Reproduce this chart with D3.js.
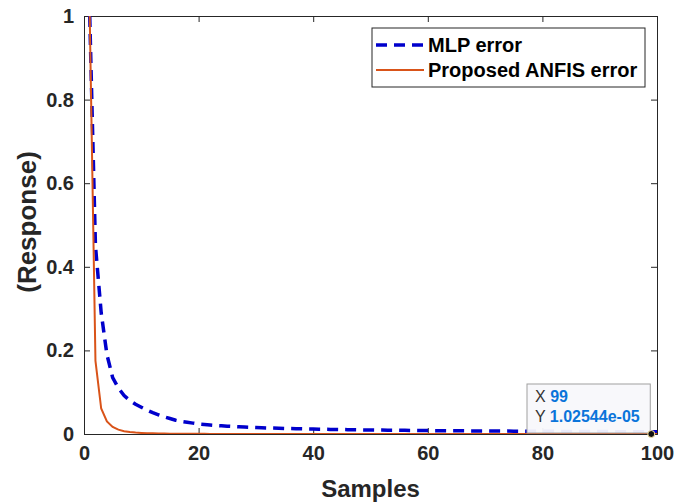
<!DOCTYPE html>
<html>
<head>
    <meta charset="utf-8">
    <style>
        body { margin: 0; background: white; }
        svg { display: block; background: white; }
        text { font-family: "Liberation Sans", Arial, Helvetica, sans-serif; }
        .tick text { font-size: 20px; font-weight: bold; fill: #262626; }
        .axis-label { font-size: 24px; font-weight: bold; fill: #262626; }
        .legend text { font-size: 20px; font-weight: bold; fill: #000; }
    </style>
    <script src="https://d3js.org/d3.v7.min.js"></script>
</head>
<body>
<script>
const mlpError = [
    1.0, 0.45, 0.29, 0.19, 0.135, 0.11, 0.092, 0.08, 0.071, 0.064,
    0.057, 0.051, 0.046, 0.041, 0.037, 0.033, 0.030, 0.028, 0.026, 0.024,
    0.0228, 0.0216, 0.0205, 0.0196, 0.0188, 0.018, 0.0173, 0.0166, 0.016, 0.0155,
    0.015, 0.0145, 0.0141, 0.0137, 0.0133, 0.013, 0.0127, 0.0124, 0.0121, 0.0118,
    0.0115, 0.0113, 0.011, 0.0108, 0.0106, 0.0104, 0.0102, 0.01, 0.0098, 0.0096,
    0.0094, 0.0093, 0.0091, 0.009, 0.0088, 0.0087, 0.0086, 0.0084, 0.0083, 0.0082,
    0.0081, 0.008, 0.0079, 0.0078, 0.0077, 0.0076, 0.0075, 0.0074, 0.0073, 0.0072,
    0.0071, 0.007, 0.0069, 0.0069, 0.0068, 0.0067, 0.0066, 0.0066, 0.0065, 0.0064,
    0.0063, 0.0063, 0.0062, 0.0061, 0.0061, 0.006, 0.006, 0.0059, 0.0058, 0.0058,
    0.0057, 0.0057, 0.0056, 0.0056, 0.0055, 0.0055, 0.0054, 0.0054, 0.0053, 0.0053
];

const anfisError = [
    1.0, 0.175, 0.061, 0.03, 0.017, 0.0105, 0.0068, 0.0047, 0.0034, 0.0025,
    0.0019, 0.0015, 0.0012, 0.00095, 0.00078, 0.00064, 0.00054, 0.00046, 0.0004, 0.00035,
    0.00031, 0.00027, 0.00024, 0.00022, 0.0002, 0.00018, 0.000165, 0.00015, 0.00014, 0.00013,
    0.00012, 0.000112, 0.000105, 0.000098, 0.000092, 0.000086, 0.000081, 0.000076, 0.000072, 0.000068,
    0.000064, 0.000061, 0.000058, 0.000055, 0.000052, 0.00005, 0.000048, 0.000046, 0.000044, 0.000042,
    0.00004, 0.0000385, 0.000037, 0.0000355, 0.000034, 0.0000328, 0.0000316, 0.0000305, 0.0000294, 0.0000284,
    0.0000275, 0.0000266, 0.0000257, 0.0000249, 0.0000241, 0.0000234, 0.0000227, 0.000022, 0.0000214, 0.0000208,
    0.0000202, 0.0000196, 0.0000191, 0.0000186, 0.0000181, 0.0000176, 0.0000172, 0.0000168, 0.0000164, 0.000016,
    0.0000156, 0.0000152, 0.0000149, 0.0000145, 0.0000142, 0.0000139, 0.0000136, 0.0000133, 0.000013, 0.0000127,
    0.0000125, 0.0000122, 0.000012, 0.0000117, 0.0000115, 0.0000113, 0.0000111, 0.0000108, 0.0000102544, 0.0000101
];

const samples = mlpError.map((d, i) => i + 1);
const xTicks = [0, 20, 40, 60, 80, 100];
const yTicks = [0, 0.2, 0.4, 0.6, 0.8, 1];
const seriesNames = ["MLP error", "Proposed ANFIS error"];
const tip = { x: 99, y: 1.02544e-05, label: "1.02544e-05" };

const width = 690, height = 504;
const margin = { top: 16, right: 33, bottom: 70, left: 84 };
const plotW = width - margin.left - margin.right;
const plotH = height - margin.top - margin.bottom;

const svg = d3.select("body").append("svg")
    .attr("width", width)
    .attr("height", height);

const x = d3.scaleLinear().domain([0, 100]).range([0, plotW]);
const y = d3.scaleLinear().domain([0, 1]).range([plotH, 0]);

const g = svg.append("g").attr("transform", `translate(${margin.left},${margin.top})`);

g.append("clipPath").attr("id", "clip")
    .append("rect").attr("width", plotW).attr("height", plotH);

// axes, ticks inward
const fmtY = d => d === 0 ? "0" : d === 1 ? "1" : d3.format(".1f")(d);

const xAxis = g.append("g").attr("transform", `translate(0,${plotH})`)
    .call(d3.axisBottom(x).tickValues(xTicks).tickSize(-6).tickPadding(12).tickFormat(d3.format("d")));
const xTop = g.append("g")
    .call(d3.axisTop(x).tickValues(xTicks).tickSize(-6).tickFormat(""));
const yAxis = g.append("g")
    .call(d3.axisLeft(y).tickValues(yTicks).tickSize(-6).tickPadding(10).tickFormat(fmtY));
const yRight = g.append("g").attr("transform", `translate(${plotW},0)`)
    .call(d3.axisRight(y).tickValues(yTicks).tickSize(-6).tickFormat(""));

[xAxis, xTop, yAxis, yRight].forEach(a => {
    a.select(".domain").attr("stroke", "#262626").attr("stroke-width", 1);
    a.selectAll(".tick line").attr("stroke", "#262626").attr("stroke-width", 1);
});
xAxis.selectAll(".tick text").attr("dy", "0.71em");

const line = d3.line().x((d, i) => x(samples[i])).y(d => y(d));

const lines = g.append("g").attr("clip-path", "url(#clip)");
lines.append("path")
    .datum(mlpError)
    .attr("d", line)
    .attr("fill", "none")
    .attr("stroke", "#0000cc")
    .attr("stroke-width", 3.5)
    .attr("stroke-dasharray", "11,7");
lines.append("path")
    .datum(anfisError)
    .attr("d", line)
    .attr("fill", "none")
    .attr("stroke", "#d95319")
    .attr("stroke-width", 2);

// axis labels
svg.append("text").attr("class", "axis-label")
    .attr("x", margin.left + plotW / 2).attr("y", 497)
    .attr("text-anchor", "middle")
    .text("Samples");
svg.append("text").attr("class", "axis-label")
    .attr("transform", "translate(36,222) rotate(-90)")
    .attr("text-anchor", "middle")
    .style("font-size", "26px")
    .text("(Response)");

// legend
const lg = svg.append("g").attr("class", "legend").attr("transform", "translate(372,28)");
lg.append("rect").attr("width", 273).attr("height", 59)
    .attr("fill", "white").attr("stroke", "#262626").attr("stroke-width", 1);
const leg = [
    { name: seriesNames[0], color: "#0000cc", w: 3.5, dash: "11,7" },
    { name: seriesNames[1], color: "#d95319", w: 2, dash: null }
];
leg.forEach((d, i) => {
    const yy = 17 + i * 25;
    lg.append("line").attr("x1", 4).attr("x2", 52).attr("y1", yy).attr("y2", yy)
        .attr("stroke", d.color).attr("stroke-width", d.w)
        .attr("stroke-dasharray", d.dash);
    lg.append("text").attr("x", 56).attr("y", yy).attr("dy", "0.36em").text(d.name);
});

// data tip
const tx = margin.left + x(tip.x), ty = margin.top + y(tip.y);
const tg = svg.append("g");
tg.append("rect").attr("x", 527).attr("y", 384).attr("width", tx - 1 - 527).attr("height", ty - 1 - 384)
    .attr("fill", "#f8f8fb").attr("fill-opacity", 0.95)
    .attr("stroke", "#a0a0a0").attr("stroke-width", 1);
const rowsTip = [["X", String(tip.x)], ["Y", tip.label]];
rowsTip.forEach((r, i) => {
    const t = tg.append("text").attr("x", 535).attr("y", 396 + i * 20).attr("dy", "0.36em")
        .style("font-size", "16px");
    t.append("tspan").attr("fill", "#333").text(r[0] + " ");
    t.append("tspan").attr("fill", "#0a74da").attr("font-weight", "bold").text(r[1]);
});
tg.append("circle").attr("cx", tx).attr("cy", ty).attr("r", 3.5)
    .attr("fill", "#111").attr("stroke", "#fde9a6").attr("stroke-width", 1);
</script>
</body>
</html>
